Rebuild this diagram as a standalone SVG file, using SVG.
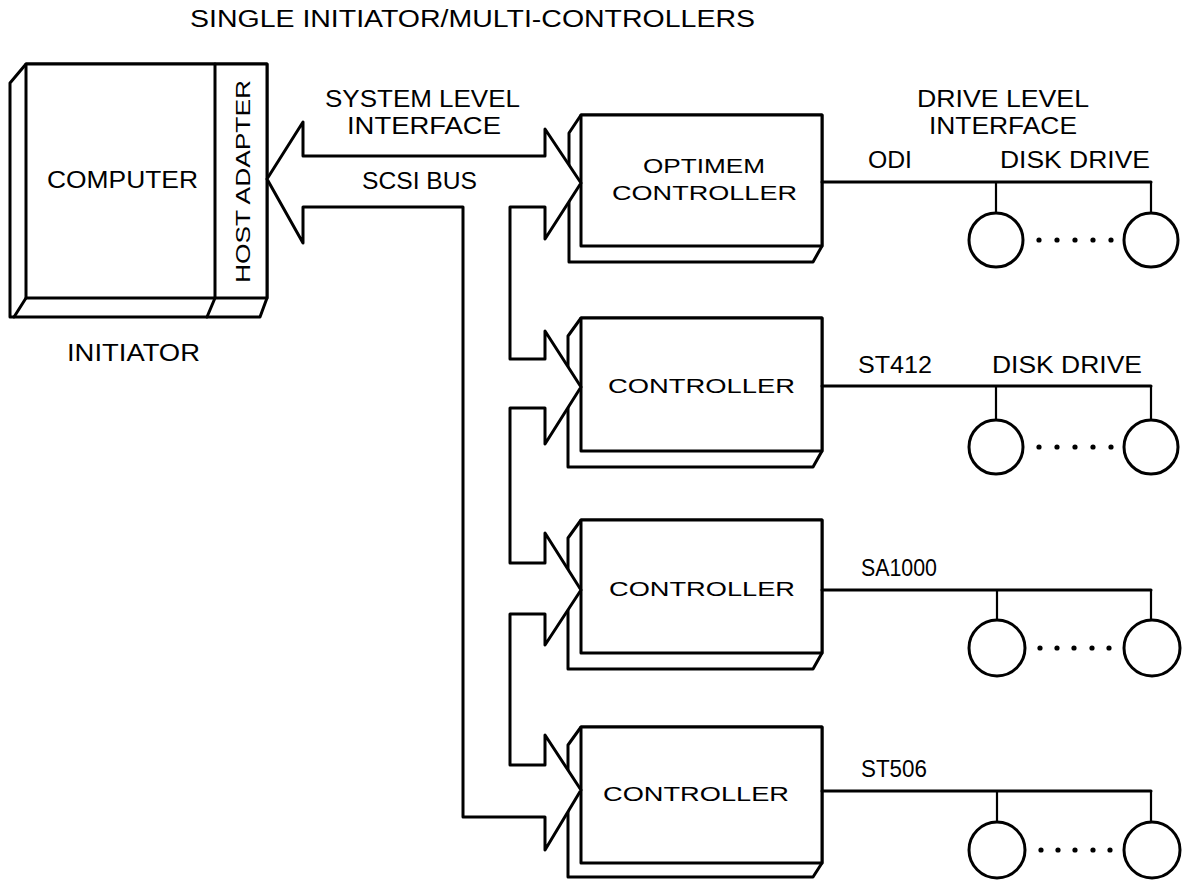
<svg xmlns="http://www.w3.org/2000/svg" width="1188" height="880" viewBox="0 0 1188 880">
<style>
text{font-family:"Liberation Sans","DejaVu Sans",sans-serif;font-size:23px;fill:#000;}
.ctl{font-size:21px;}
.ln{fill:none;stroke:#000;stroke-width:3;stroke-linejoin:round;stroke-linecap:round;}
.thin{fill:none;stroke:#000;stroke-width:2.2;}
.box{fill:#fff;stroke:#000;stroke-width:3;stroke-linejoin:round;}
.wh{fill:#fff;stroke:none;}
.dot{fill:#000;}
.disk{fill:#fff;stroke:#000;stroke-width:3;}
</style>
<rect width="1188" height="880" fill="#fff"/>
<text x="190" y="27" font-size="24" textLength="565" lengthAdjust="spacingAndGlyphs">SINGLE INITIATOR/MULTI-CONTROLLERS</text>

<g id="computer">
<path class="box" d="M26,64 L267,64 L267,298 L260,317 L10,317 L10,83 Z"/>
<rect class="box" x="26" y="64" width="241" height="234"/>
<path class="ln" d="M26,298 L14,317 M215,64 L215,298 L207,317"/>
<text x="47" y="188" textLength="151" lengthAdjust="spacingAndGlyphs">COMPUTER</text>
<text transform="translate(250,181.5) rotate(-90)" text-anchor="middle" class="ctl" textLength="203" lengthAdjust="spacingAndGlyphs">HOST ADAPTER</text>
<text x="67" y="361" textLength="133" lengthAdjust="spacingAndGlyphs">INITIATOR</text>
</g>

<g id="controller1">
<path class="box" d="M581,115 L822,115 L822,246 L813,262 L569,262 L569,133 Z"/>
<rect class="box" x="581" y="115" width="241" height="131"/>
<text x="643" y="173" class="ctl" textLength="122" lengthAdjust="spacingAndGlyphs">OPTIMEM</text>
<text x="612" y="200" class="ctl" textLength="185" lengthAdjust="spacingAndGlyphs">CONTROLLER</text>
</g>
<g id="controller2">
<path class="box" d="M581,318 L822,318 L822,451 L813,467 L568,467 L568,336 Z"/>
<rect class="box" x="581" y="318" width="241" height="133"/>
<text x="608" y="393" class="ctl" textLength="187" lengthAdjust="spacingAndGlyphs">CONTROLLER</text>
</g>
<g id="controller3">
<path class="box" d="M581,520 L822,520 L822,653 L813,669 L568,669 L568,538 Z"/>
<rect class="box" x="581" y="520" width="241" height="133"/>
<text x="609" y="596" class="ctl" textLength="186" lengthAdjust="spacingAndGlyphs">CONTROLLER</text>
</g>
<g id="controller4">
<path class="box" d="M581,727 L822,727 L822,863 L813,877 L568,877 L568,745 Z"/>
<rect class="box" x="581" y="727" width="241" height="136"/>
<text x="603" y="801" class="ctl" textLength="186" lengthAdjust="spacingAndGlyphs">CONTROLLER</text>
</g>

<g id="bus-labels">
<text x="325" y="107" textLength="195" lengthAdjust="spacingAndGlyphs">SYSTEM LEVEL</text>
<text x="347" y="134" textLength="154" lengthAdjust="spacingAndGlyphs">INTERFACE</text>
<text x="362" y="189" textLength="115" lengthAdjust="spacingAndGlyphs">SCSI BUS</text>
<text x="917" y="107" textLength="172" lengthAdjust="spacingAndGlyphs">DRIVE LEVEL</text>
<text x="929" y="134" textLength="148" lengthAdjust="spacingAndGlyphs">INTERFACE</text>
</g>

<g id="connectors">
<polygon class="wh" points="303,122 267,179 303,243"/>
<polygon class="wh" points="545,129 581,183 545,239"/>
<polygon class="wh" points="545,331 581,387 545,444"/>
<polygon class="wh" points="545,533 581,590 545,645"/>
<polygon class="wh" points="545,735 581,790 545,850"/>
<path class="ln" d="M303,156 L545,156 L545,129 L581,183 L545,239 L545,207 L510,207 L510,359 L545,359 L545,331 L581,387 L545,444 L545,408 L510,408 L510,563 L545,563 L545,533 L581,590 L545,645 L545,614 L510,614 L510,765 L545,765 L545,735 L581,790 L545,850 L545,817 L463,817 L463,207 L303,207 L303,243 L267,179 L303,122 Z"/>
<path class="ln" d="M822,182 L1151,182 M822,386 L1151,386 M822,590 L1151,590 M822,791 L1151,791"/>
<path class="thin" d="M996,182 L996,213 M1151,182 L1151,213 M996,386 L996,420 M1151,386 L1151,420 M997,590 L997,620 M1151,590 L1151,620 M997,791 L997,822 M1151,791 L1151,822"/>
</g>

<g id="drive-labels">
<text x="868" y="168" textLength="44" lengthAdjust="spacingAndGlyphs">ODI</text>
<text x="1000" y="168" textLength="150" lengthAdjust="spacingAndGlyphs">DISK DRIVE</text>
<text x="858" y="373" textLength="74" lengthAdjust="spacingAndGlyphs">ST412</text>
<text x="992" y="373" textLength="150" lengthAdjust="spacingAndGlyphs">DISK DRIVE</text>
<text x="861" y="576" textLength="76" lengthAdjust="spacingAndGlyphs">SA1000</text>
<text x="861" y="777" textLength="66" lengthAdjust="spacingAndGlyphs">ST506</text>
</g>

<g id="drives1">
<circle class="disk" cx="996" cy="240" r="27"/>
<circle class="disk" cx="1151" cy="240" r="27"/>
<circle class="dot" cx="1039" cy="240" r="2.6"/><circle class="dot" cx="1057" cy="240" r="2.6"/><circle class="dot" cx="1075" cy="240" r="2.6"/><circle class="dot" cx="1093" cy="240" r="2.6"/><circle class="dot" cx="1111" cy="240" r="2.6"/>
</g>
<g id="drives2">
<circle class="disk" cx="996" cy="447" r="27"/>
<circle class="disk" cx="1151" cy="447" r="27"/>
<circle class="dot" cx="1039" cy="447" r="2.6"/><circle class="dot" cx="1057" cy="447" r="2.6"/><circle class="dot" cx="1075" cy="447" r="2.6"/><circle class="dot" cx="1093" cy="447" r="2.6"/><circle class="dot" cx="1111" cy="447" r="2.6"/>
</g>
<g id="drives3">
<circle class="disk" cx="997" cy="648" r="28"/>
<circle class="disk" cx="1152" cy="648" r="28"/>
<circle class="dot" cx="1040" cy="648" r="2.6"/><circle class="dot" cx="1057" cy="648" r="2.6"/><circle class="dot" cx="1074" cy="648" r="2.6"/><circle class="dot" cx="1092" cy="648" r="2.6"/><circle class="dot" cx="1109" cy="648" r="2.6"/>
</g>
<g id="drives4">
<circle class="disk" cx="997" cy="850" r="28"/>
<circle class="disk" cx="1152" cy="850" r="28"/>
<circle class="dot" cx="1041" cy="850" r="2.6"/><circle class="dot" cx="1058" cy="850" r="2.6"/><circle class="dot" cx="1075" cy="850" r="2.6"/><circle class="dot" cx="1093" cy="850" r="2.6"/><circle class="dot" cx="1110" cy="850" r="2.6"/>
</g>
</svg>
